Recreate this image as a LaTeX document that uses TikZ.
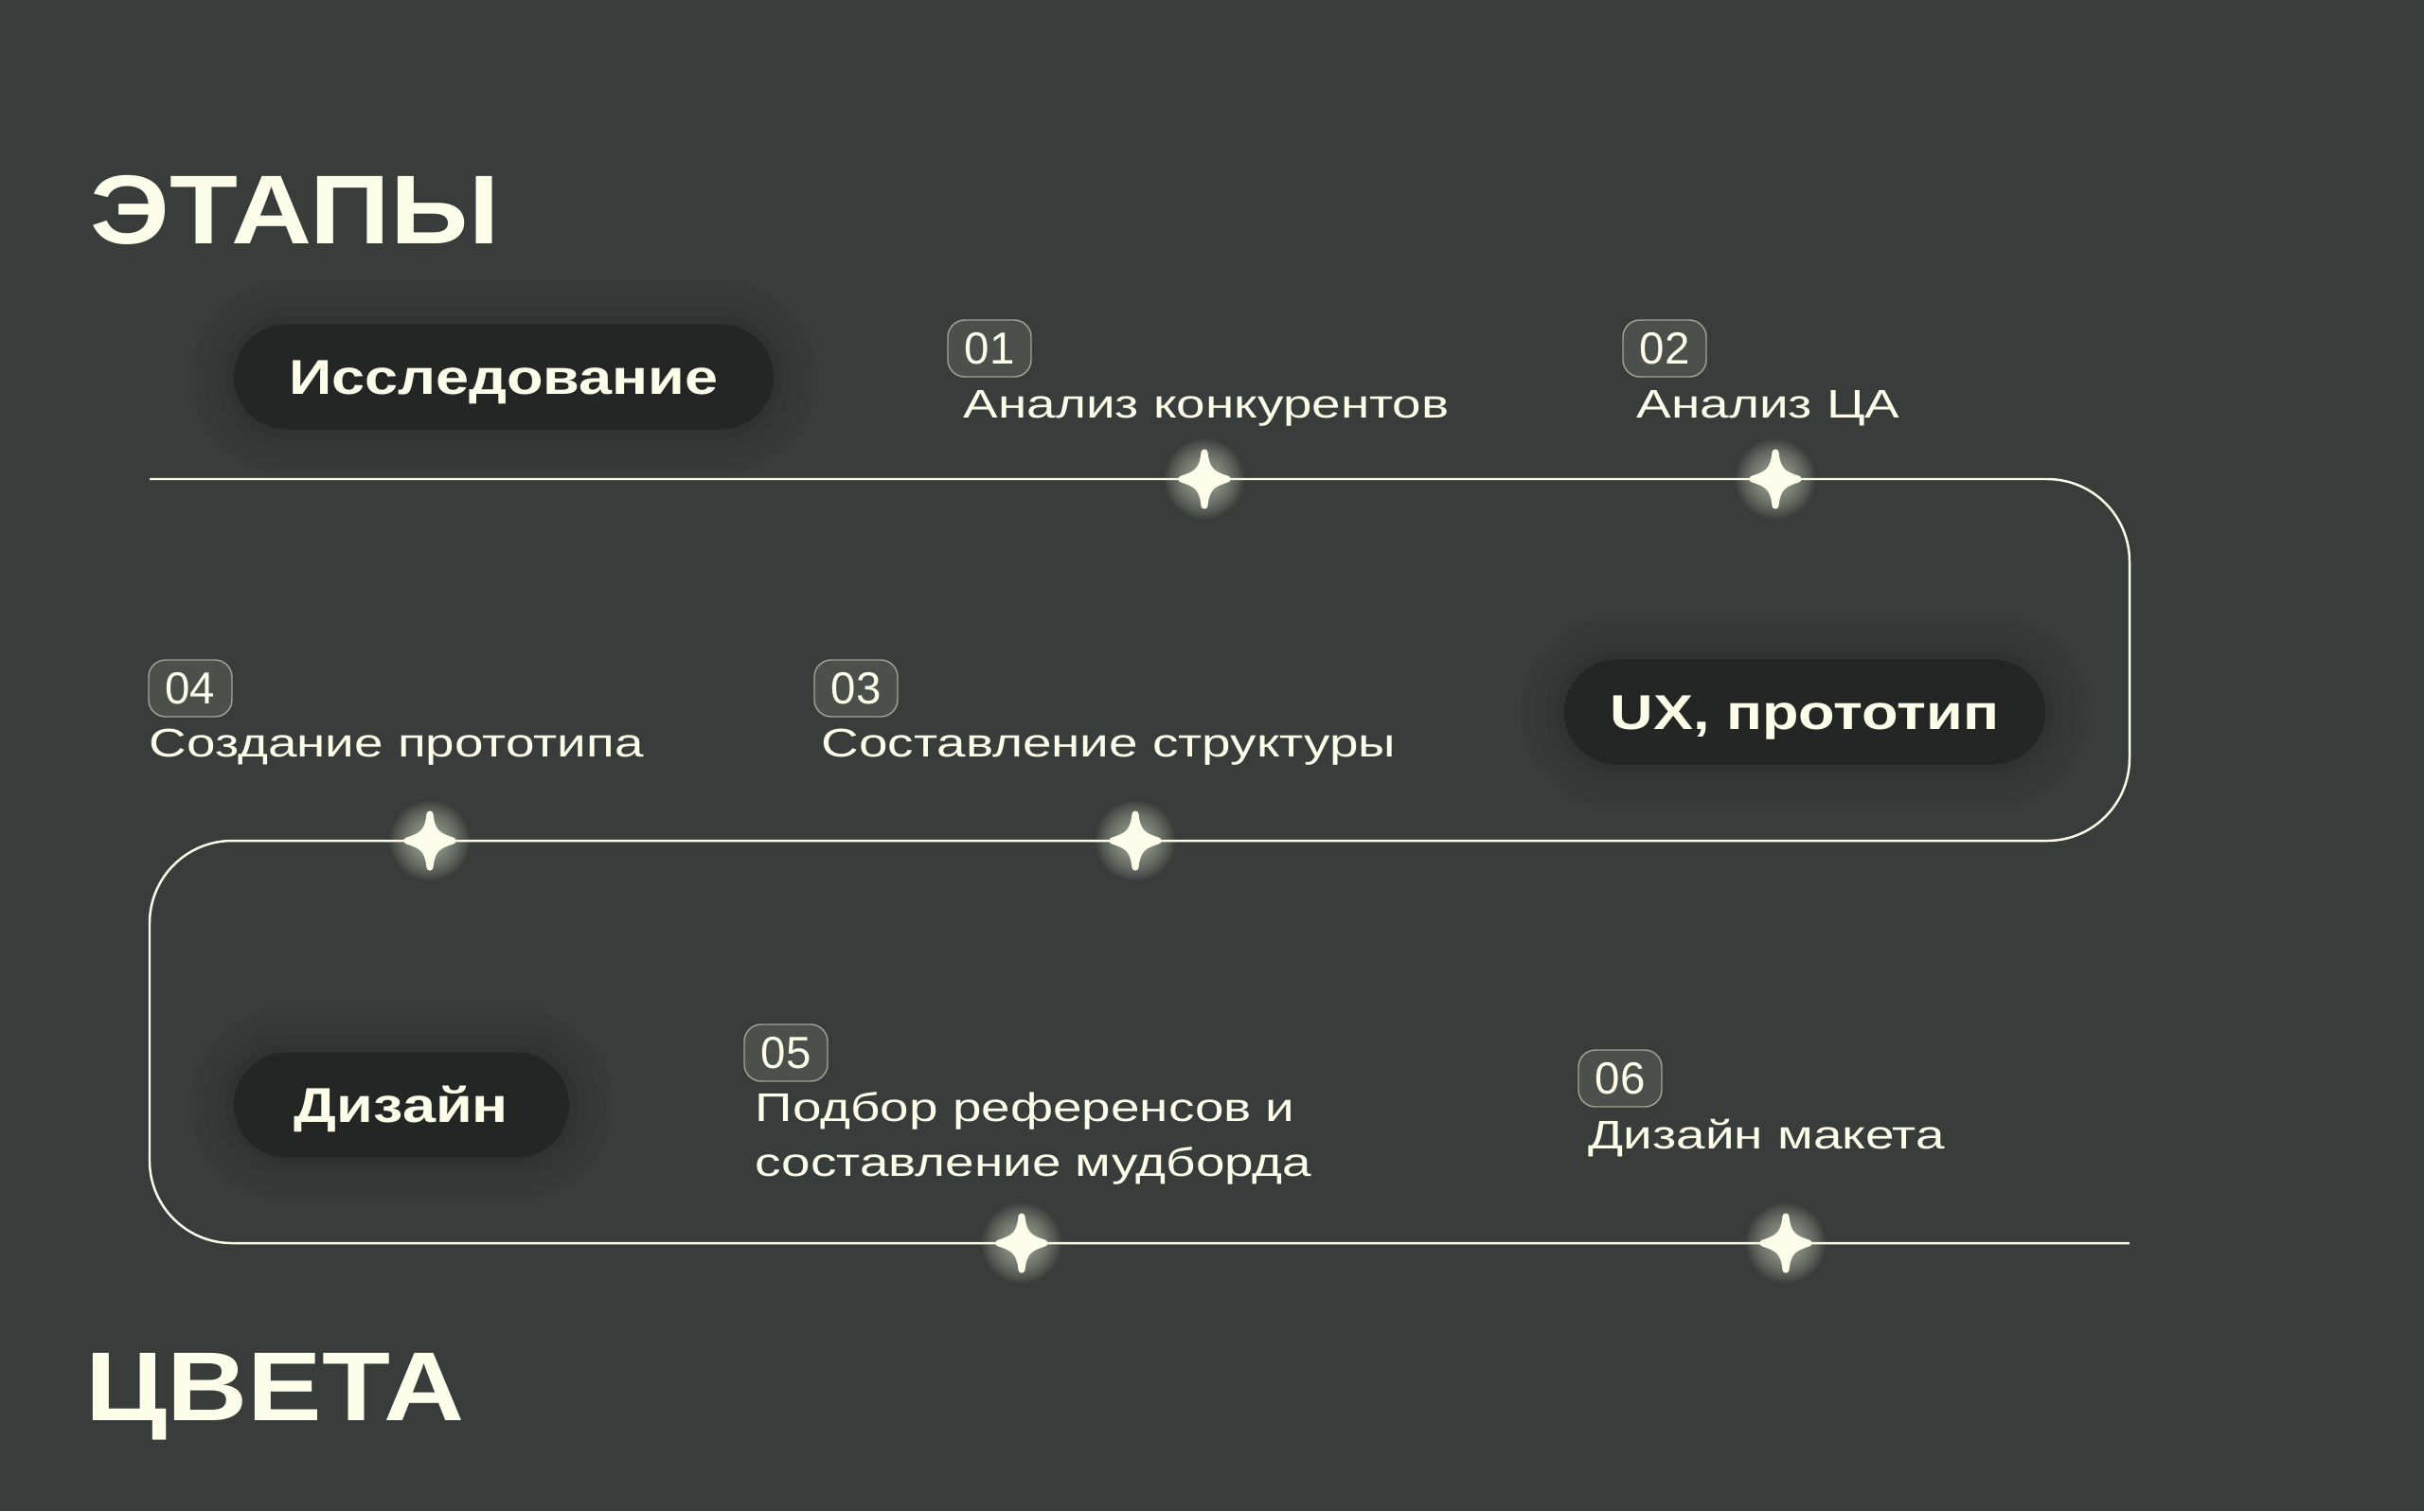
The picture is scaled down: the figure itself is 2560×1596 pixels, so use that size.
\documentclass[tikz,border=0pt]{standalone}
\usepackage{fontspec}
\setmainfont{Liberation Sans}
\newfontfamily\headfont{Liberation Sans}[FakeStretch=1.14]
\newfontfamily\pillfont{Liberation Sans}[FakeStretch=1.22]
\newfontfamily\bodyfont{Liberation Sans}[FakeStretch=1.3]
\newfontfamily\numfont{Liberation Sans}
\definecolor{bg}{RGB}{56,61,59}
\definecolor{cream}{RGB}{252,254,234}
\definecolor{pill}{RGB}{36,38,37}
\tikzset{
  heading/.style={anchor=base west,inner sep=0,text=cream,
    font=\headfont\bfseries\fontsize{29.4}{35}\selectfont},
  stage/.style={fill=pill,rounded corners=0.555cm,minimum height=1.11cm,
    inner sep=0,text height=0.37cm,text depth=0pt,text=cream,
    font=\pillfont\bfseries\fontsize{14.7}{17}\selectfont,
    preaction={draw=black,opacity=0.025,line width=26pt},
    preaction={draw=black,opacity=0.03,line width=18pt},
    preaction={draw=black,opacity=0.035,line width=11pt},
    preaction={draw=black,opacity=0.04,line width=5pt}},
  badge/.style={fill=cream,fill opacity=0.1,draw=cream,draw opacity=0.5,
    line width=0.4pt,rounded corners=0.18cm,minimum width=0.88cm,
    minimum height=0.6cm,inner sep=0,text=cream,text opacity=1,
    font=\numfont\fontsize{13.5}{16}\selectfont},
  steptext/.style={anchor=base west,inner sep=0,text=cream,align=left,
    font=\bodyfont\fontsize{12}{16.5}\selectfont},
  track/.style={draw=cream,line width=0.7pt,rounded corners=0.87cm},
  sparkle/.pic={
    \foreach \r in {10,12,...,42}
      \fill[cream,opacity=0.04] (0,0) circle (\r);
    \filldraw[cream,line width=2pt,line join=round]
      (0,-28) .. controls (2,-9) and (8,-5) .. (24,0)
      .. controls (8,5) and (2,9) .. (0,28)
      .. controls (-2,9) and (-8,5) .. (-24,0)
      .. controls (-8,-5) and (-2,-9) .. cycle;
  }
}
\begin{document}
\begin{tikzpicture}[x=0.01cm,y=-0.01cm]
\useasboundingbox (0,0) rectangle (2560,1596);
\fill[bg] (0,0) rectangle (2560,1596);

% track
\coordinate (a) at (158,506);
\coordinate (b) at (2249,506);
\coordinate (c) at (2249,888);
\coordinate (d) at (158,888);
\coordinate (e) at (158,1313);
\coordinate (f) at (2249,1313);
\draw[track] (a) -- (b) -- (c) -- (d) -- (e) -- (f);

\coordinate (s1) at (1272,506);
\coordinate (s2) at (1875,506);
\coordinate (s3) at (454,888);
\coordinate (s4) at (1199,888);
\coordinate (s5) at (1079,1313);
\coordinate (s6) at (1886,1313);
\foreach \s in {s1,s2,s3,s4,s5,s6}
  \pic at (\s) {sparkle};

% titles
\node[heading] (etapy) at (95,257) {ЭТАПЫ};
\node[heading] (cveta) at (90,1500) {ЦВЕТА};

% stages
\node[stage,minimum width=5.7cm] (research) at (532,398) {Исследование};
\node[stage,minimum width=5.08cm] (ux) at (1906,752) {UX, прототип};
\node[stage,minimum width=3.54cm] (design) at (424,1167) {Дизайн};

% steps
\node[badge] (n1) at (1045,368) {01};
\node[badge] (n2) at (1758,368) {02};
\node[badge] (n3) at (904,727) {03};
\node[badge] (n4) at (201,727) {04};
\node[badge] (n5) at (830,1112) {05};
\node[badge] (n6) at (1711,1139) {06};
\node[steptext] (t1) at (1017,441) {Анализ конкурентов};
\node[steptext] (t2) at (1728,441) {Анализ ЦА};
\node[steptext] (t3) at (867,799) {Составление структуры};
\node[steptext] (t4) at (157,799) {Создание прототипа};
\node[steptext] (t5) at (797,1242) {Подбор референсов и\\составление мудборда};
\node[steptext] (t6) at (1677,1213) {Дизайн макета};
\end{tikzpicture}
\end{document}
